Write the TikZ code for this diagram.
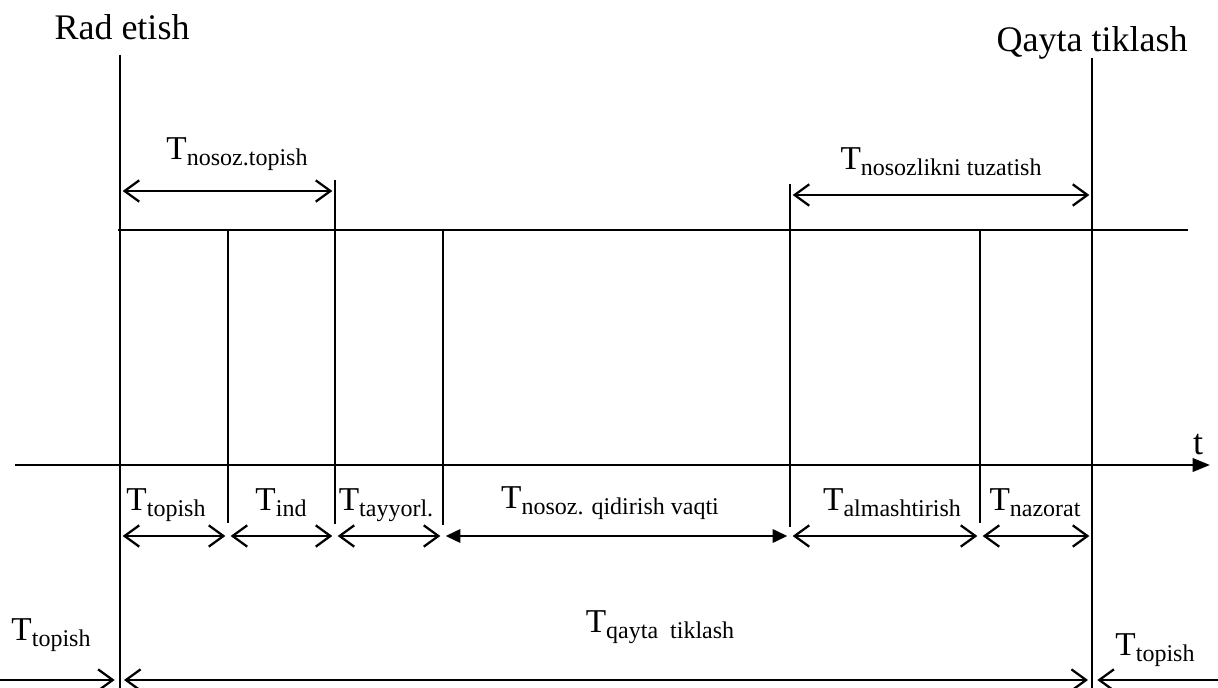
\documentclass[tikz,border=0pt]{standalone}
\usepackage{fontspec}
\setmainfont{Liberation Serif}
\usetikzlibrary{arrows.meta}
\newcommand{\Tsub}[1]{T\raisebox{-4.5pt}{\fontsize{18}{20}\selectfont #1}}

\begin{document}
\begin{tikzpicture}[
  x=0.75pt, y=-0.75pt,
  tick/.style={line width=1.5pt},
  axis/.style={line width=2pt,-{Triangle[length=13pt,width=10pt]}},
  title/.style={font=\fontsize{27}{30}\selectfont,inner sep=0pt,anchor=base},
  tlabel/.style={font=\fontsize{25}{28}\selectfont,inner sep=0pt,anchor=base},
  span/.style={line width=1.7pt,{Straight Barb[length=11pt,width=16pt]}-{Straight Barb[length=11pt,width=16pt]},shorten <=2pt,shorten >=2pt},
  solid span/.style={line width=1.7pt,{Triangle[length=11pt,width=10pt]}-{Triangle[length=11pt,width=10pt]},shorten <=2pt,shorten >=2pt},
  inward/.style={line width=1.7pt,-{Straight Barb[length=11pt,width=16pt]},shorten >=4pt}
]
\useasboundingbox (0,0) rectangle (1218,688);

% tick positions on the time line
\foreach \x [count=\i from 0] in {120,228,335,443,790,980,1092}
  \coordinate (p\i) at (\x,536);

% long lines: failure and restoration
\coordinate (fail top) at (120,55);
\coordinate (fail bot) at (120,688);
\coordinate (rest top) at (1092,58);
\coordinate (rest bot) at (1092,688);
\draw[tick] (fail top) -- (fail bot);
\draw[tick] (rest top) -- (rest bot);

% short ticks
\coordinate (b1 top) at (228,230);  \coordinate (b1 bot) at (228,523);
\coordinate (b2 top) at (335,180);  \coordinate (b2 bot) at (335,524);
\coordinate (b3 top) at (443,230);  \coordinate (b3 bot) at (443,525);
\coordinate (b4 top) at (790,184);  \coordinate (b4 bot) at (790,527);
\coordinate (b5 top) at (980,230);  \coordinate (b5 bot) at (980,523);
\foreach \i in {1,...,5}
  \draw[tick] (b\i\space top) -- (b\i\space bot);

% horizontal lines
\coordinate (level l) at (118,230);
\coordinate (level r) at (1188,230);
\draw[tick] (level l) -- (level r);
\coordinate (axis l) at (15,465);
\coordinate (axis r) at (1210,465);
\draw[axis] (axis l) -- (axis r);
\node[title] (tlab) at (1198,454) {t};

% titles
\node[title] (fail) at (122,40) {Rad etish};
\node[title] (rest) at (1092,52) {Qayta tiklash};

% upper spans
\coordinate (u0) at (120,191);
\coordinate (u2) at (335,191);
\draw[span] (u0) -- (u2);
\node[tlabel] (nosoztop) at (237,160) {\Tsub{nosoz.topish}};
\coordinate (v4) at (790,195);
\coordinate (v6) at (1092,195);
\draw[span] (v4) -- (v6);
\node[tlabel] (nosozfix) at (941,170) {\Tsub{nosozlikni tuzatish}};

% lower spans
\draw[span] (p0) -- (p1);
\draw[span] (p1) -- (p2);
\draw[span] (p2) -- (p3);
\draw[solid span] (p3) -- (p4);
\draw[span] (p4) -- (p5);
\draw[span] (p5) -- (p6);
\node[tlabel] (topish) at (166,510) {\Tsub{topish}};
\node[tlabel] (ind) at (281,510) {\Tsub{ind}};
\node[tlabel] (tayyor) at (386,510) {\Tsub{tayyorl.}};
\node[tlabel] (qidir) at (610,508) {\Tsub{nosoz. qidirish vaqti}};
\node[tlabel] (almash) at (892,510) {\Tsub{almashtirish}};
\node[tlabel] (nazorat) at (1035,510) {\Tsub{nazorat}};

% restoration span
\coordinate (q0) at (120,680);
\coordinate (q6) at (1092,680);
\coordinate (q left) at (0,680);
\coordinate (q right) at (1218,680);
\draw[span,shorten <=3pt,shorten >=3pt] (q0) -- (q6);
\draw[inward] (q left) -- (q0);
\draw[inward] (q right) -- (q6);
\node[tlabel] (qayta) at (660,632) {\Tsub{qayta \ tiklash}};
\node[tlabel] (topl) at (51,640) {\Tsub{topish}};
\node[tlabel] (topr) at (1155,655) {\Tsub{topish}};
\end{tikzpicture}
\end{document}
